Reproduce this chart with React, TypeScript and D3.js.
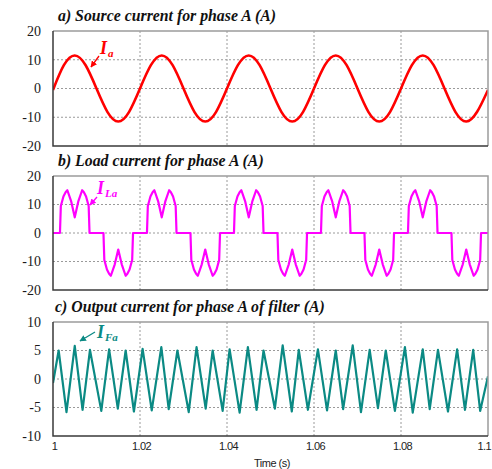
import React, { useEffect, useRef } from "react";
import * as d3 from "d3";

// a) source current
const srcTime = [
  1, 1.0025, 1.005, 1.0075, 1.01, 1.0125, 1.015, 1.0175,
  1.02, 1.0225, 1.025, 1.0275, 1.03, 1.0325, 1.035, 1.0375,
  1.04, 1.0425, 1.045, 1.0475, 1.05, 1.0525, 1.055, 1.0575,
  1.06, 1.0625, 1.065, 1.0675, 1.07, 1.0725, 1.075, 1.0775,
  1.08, 1.0825, 1.085, 1.0875, 1.09, 1.0925, 1.095, 1.0975, 1.1,
];
const srcCurrent = [
  -0.5, 8.1, 11.5, 8.1, 0, -8.1, -11.5, -8.1,
  0, 8.1, 11.5, 8.1, 0, -8.1, -11.5, -8.1,
  0, 8.1, 11.5, 8.1, 0, -8.1, -11.5, -8.1,
  0, 8.1, 11.5, 8.1, 0, -8.1, -11.5, -8.1,
  0, 8.1, 11.5, 8.1, 0, -8.1, -11.5, -8.1, -0.5,
];

// b) load current (rectifier type)
const loadTime = [
  1,
  1.0016, 1.0018, 1.0024, 1.0029, 1.0033, 1.0042, 1.005, 1.0058, 1.0067, 1.0071, 1.0076, 1.0082, 1.0084,
  1.0116, 1.0118, 1.0124, 1.0129, 1.0133, 1.0142, 1.015, 1.0158, 1.0167, 1.0171, 1.0176, 1.0182, 1.0184,
  1.0216, 1.0218, 1.0224, 1.0229, 1.0233, 1.0242, 1.025, 1.0258, 1.0267, 1.0271, 1.0276, 1.0282, 1.0284,
  1.0316, 1.0318, 1.0324, 1.0329, 1.0333, 1.0342, 1.035, 1.0358, 1.0367, 1.0371, 1.0376, 1.0382, 1.0384,
  1.0416, 1.0418, 1.0424, 1.0429, 1.0433, 1.0442, 1.045, 1.0458, 1.0467, 1.0471, 1.0476, 1.0482, 1.0484,
  1.0516, 1.0518, 1.0524, 1.0529, 1.0533, 1.0542, 1.055, 1.0558, 1.0567, 1.0571, 1.0576, 1.0582, 1.0584,
  1.0616, 1.0618, 1.0624, 1.0629, 1.0633, 1.0642, 1.065, 1.0658, 1.0667, 1.0671, 1.0676, 1.0682, 1.0684,
  1.0716, 1.0718, 1.0724, 1.0729, 1.0733, 1.0742, 1.075, 1.0758, 1.0767, 1.0771, 1.0776, 1.0782, 1.0784,
  1.0816, 1.0818, 1.0824, 1.0829, 1.0833, 1.0842, 1.085, 1.0858, 1.0867, 1.0871, 1.0876, 1.0882, 1.0884,
  1.0916, 1.0918, 1.0924, 1.0929, 1.0933, 1.0942, 1.095, 1.0958, 1.0967, 1.0971, 1.0976, 1.0982, 1.0984,
  1.1,
];
const loadCurrent = [
  0,
  0, 9.5, 12.8, 14.3, 15, 11, 5.5, 11, 15, 14.3, 12.8, 9.5, 0,
  0, -9.5, -12.8, -14.3, -15, -11, -5.8, -11, -15, -14.3, -12.8, -9.5, 0,
  0, 9.5, 12.8, 14.3, 15, 11, 5.5, 11, 15, 14.3, 12.8, 9.5, 0,
  0, -9.5, -12.8, -14.3, -15, -11, -5.8, -11, -15, -14.3, -12.8, -9.5, 0,
  0, 9.5, 12.8, 14.3, 15, 11, 5.5, 11, 15, 14.3, 12.8, 9.5, 0,
  0, -9.5, -12.8, -14.3, -15, -11, -5.8, -11, -15, -14.3, -12.8, -9.5, 0,
  0, 9.5, 12.8, 14.3, 15, 11, 5.5, 11, 15, 14.3, 12.8, 9.5, 0,
  0, -9.5, -12.8, -14.3, -15, -11, -5.8, -11, -15, -14.3, -12.8, -9.5, 0,
  0, 9.5, 12.8, 14.3, 15, 11, 5.5, 11, 15, 14.3, 12.8, 9.5, 0,
  0, -9.5, -12.8, -14.3, -15, -11, -5.8, -11, -15, -14.3, -12.8, -9.5, 0,
  0,
];

// c) filter output current, peaks and troughs
const filterTime = [
  1, 1.0013, 1.0031, 1.005, 1.0068, 1.0085, 1.0111, 1.0129, 1.0149, 1.0167,
  1.0186, 1.0206, 1.0227, 1.0249, 1.0266, 1.0286, 1.0312, 1.033, 1.0351, 1.0367,
  1.039, 1.0406, 1.0429, 1.0448, 1.0468, 1.0484, 1.051, 1.0528, 1.0549, 1.0565,
  1.0586, 1.0609, 1.063, 1.065, 1.0667, 1.0689, 1.0708, 1.0728, 1.0747, 1.0765,
  1.0786, 1.0809, 1.0827, 1.085, 1.0866, 1.0885, 1.0908, 1.0929, 1.0947, 1.0966,
  1.0982, 1.1,
];
const filterCurrent = [
  -0.7, 5.0, -5.8, 5.8, -5.4, 5.1, -5.6, 5.2, -5.2, 5.0,
  -5.7, 5.3, -5.5, 5.6, -5.3, 5.0, -5.8, 5.6, -5.2, 5.0,
  -5.6, 5.2, -5.9, 5.6, -5.4, 5.0, -5.2, 5.9, -5.7, 5.1,
  -5.4, 5.2, -5.5, 5.0, -5.3, 5.9, -5.8, 5.1, -5.1, 5.0,
  -5.6, 5.6, -5.9, 5.2, -5.3, 5.1, -5.7, 5.2, -5.4, 5.1,
  -5.6, 0.5,
];

const timeTicks = [1, 1.02, 1.04, 1.06, 1.08, 1.1];
const timeTickLabels = ["1", "1.02", "1.04", "1.06", "1.08", "1.1"];
const ticksAB = [20, 10, 0, -10, -20];
const ticksC = [10, 5, 0, -5, -10];

const W = 492;
const H = 469;
const left = 53;
const right = 488;
const serif = "Liberation Serif, Times New Roman, DejaVu Serif, serif";
const narrow = "Liberation Sans Narrow, Arial Narrow, Liberation Sans, Arial, sans-serif";

const panels = [
  {
    id: "a", title: "a) Source current for phase A (A)", titleX: 58, titleY: 21,
    top: 31, bottom: 146, t: srcTime, v: srcCurrent, ticks: ticksAB,
    color: "#ff0000", lw: 2.6, curve: d3.curveNatural,
    sub: "a", labelX: 100, labelY: 54, arrow: [[99, 56], [91, 67]],
  },
  {
    id: "b", title: "b) Load current for phase A (A)", titleX: 58, titleY: 166,
    top: 176, bottom: 290, t: loadTime, v: loadCurrent, ticks: ticksAB,
    color: "#ff00ff", lw: 2.2, curve: d3.curveLinear,
    sub: "La", labelX: 97, labelY: 194, arrow: [[97, 197], [90, 205]],
  },
  {
    id: "c", title: "c) Output current for phase A of filter (A)", titleX: 55, titleY: 312,
    top: 322, bottom: 436, t: filterTime, v: filterCurrent, ticks: ticksC,
    color: "#0b8a84", lw: 2.2, curve: d3.curveLinear,
    sub: "Fa", labelX: 97, labelY: 338, arrow: [[95, 332], [80, 341]],
  },
];

export default function App() {
  const ref = useRef<SVGSVGElement>(null);

  useEffect(() => {
    document.body.style.margin = "0";
    const svg = d3.select(ref.current);
    svg.selectAll("*").remove();

    const x = d3.scaleLinear().domain([1, 1.1]).range([left, right]);
    const defs = svg.append("defs");

    panels.forEach((p) => {
      const y = d3.scaleLinear()
        .domain([p.ticks[p.ticks.length - 1], p.ticks[0]])
        .range([p.bottom, p.top]);
      const g = svg.append("g");

      // grid
      g.selectAll("line.hgrid")
        .data(p.ticks.slice(1, -1))
        .enter()
        .append("line")
        .attr("x1", left).attr("x2", right)
        .attr("y1", (d) => y(d)).attr("y2", (d) => y(d))
        .attr("stroke", "#9a9a9a")
        .attr("stroke-width", 1)
        .attr("stroke-dasharray", "2,2");
      g.selectAll("line.vgrid")
        .data(timeTicks.slice(1, -1))
        .enter()
        .append("line")
        .attr("x1", (d) => x(d)).attr("x2", (d) => x(d))
        .attr("y1", p.top).attr("y2", p.bottom)
        .attr("stroke", "#9a9a9a")
        .attr("stroke-width", 1)
        .attr("stroke-dasharray", "2,2");

      // y tick labels
      g.selectAll("text.ytick")
        .data(p.ticks)
        .enter()
        .append("text")
        .attr("x", 41)
        .attr("y", (d) => y(d))
        .attr("dy", "0.35em")
        .attr("text-anchor", "end")
        .style("font-family", serif)
        .style("font-size", "14px")
        .attr("fill", "#1a1a1a")
        .text((d) => String(d));

      // title
      g.append("text")
        .attr("x", p.titleX)
        .attr("y", p.titleY)
        .style("font-family", serif)
        .style("font-size", "15.8px")
        .style("font-weight", "bold")
        .style("font-style", "italic")
        .attr("fill", "#111")
        .text(p.title);

      // trace
      defs.append("clipPath").attr("id", "clip-" + p.id)
        .append("rect")
        .attr("x", left).attr("y", p.top)
        .attr("width", right - left).attr("height", p.bottom - p.top);

      const line = d3.line<number>()
        .x((d, i) => x(p.t[i]))
        .y((d) => y(d))
        .curve(p.curve);

      g.append("path")
        .datum(p.v)
        .attr("d", line)
        .attr("clip-path", `url(#clip-${p.id})`)
        .attr("fill", "none")
        .attr("stroke", p.color)
        .attr("stroke-width", p.lw)
        .attr("stroke-linejoin", "round");

      // frame: light top/right, dark left/bottom
      g.append("path")
        .attr("d", `M${left},${p.top}H${right}V${p.bottom}`)
        .attr("fill", "none")
        .attr("stroke", "#9c9c9c")
        .attr("stroke-width", 1.5);
      g.append("path")
        .attr("d", `M${left},${p.top}V${p.bottom}H${right}`)
        .attr("fill", "none")
        .attr("stroke", "#3a3a3a")
        .attr("stroke-width", 1.5);

      // label with arrow
      defs.append("marker")
        .attr("id", "arrow-" + p.id)
        .attr("viewBox", "0 0 10 10")
        .attr("refX", 9).attr("refY", 5)
        .attr("markerWidth", 5).attr("markerHeight", 5)
        .attr("orient", "auto")
        .append("path")
        .attr("d", "M0,0L10,5L0,10z")
        .attr("fill", p.color);

      g.append("line")
        .attr("x1", p.arrow[0][0]).attr("y1", p.arrow[0][1])
        .attr("x2", p.arrow[1][0]).attr("y2", p.arrow[1][1])
        .attr("stroke", p.color)
        .attr("stroke-width", 1.3)
        .attr("marker-end", `url(#arrow-${p.id})`);

      const lab = g.append("text")
        .attr("x", p.labelX)
        .attr("y", p.labelY)
        .style("font-family", serif)
        .style("font-weight", "bold")
        .style("font-style", "italic")
        .attr("fill", p.color);
      lab.append("tspan").style("font-size", "18px").text("I");
      lab.append("tspan").style("font-size", "11px").attr("dx", 1).attr("dy", 3).text(p.sub);
    });

    // x tick labels under the last panel
    svg.selectAll("text.xtick")
      .data(timeTicks)
      .enter()
      .append("text")
      .attr("x", (d, i) => (i === timeTicks.length - 1 ? 491 : x(d) + 1.5))
      .attr("y", 450)
      .attr("text-anchor", (d, i) => (i === timeTicks.length - 1 ? "end" : "middle"))
      .style("font-family", narrow)
      .style("font-size", "11px")
      .style("letter-spacing", "-0.6px")
      .attr("fill", "#222")
      .text((d, i) => timeTickLabels[i]);

    svg.append("text")
      .attr("x", 272)
      .attr("y", 467)
      .attr("text-anchor", "middle")
      .style("font-family", narrow)
      .style("font-size", "11px")
      .style("letter-spacing", "-0.5px")
      .attr("fill", "#222")
      .text("Time (s)");
  }, []);

  return (
    <svg ref={ref} width={W} height={H} style={{ display: "block", background: "#fff" }} />
  );
}
